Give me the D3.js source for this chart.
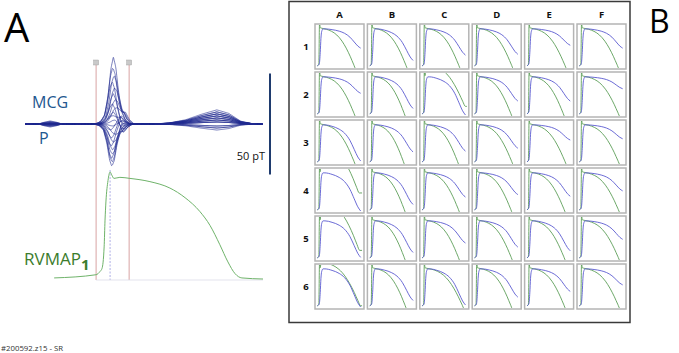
<!DOCTYPE html>
<html>
<head>
<meta charset="utf-8">
<script src="https://cdn.jsdelivr.net/npm/d3@7"></script>
<style>
  html, body { margin: 0; padding: 0; background: #fff; }
  #fig { width: 679px; height: 353px; }
  text { font-family: "Open Sans", "Liberation Sans", sans-serif; }
</style>
</head>
<body>
<div id="fig"></div>
<script>
// ---- Panel A data ----
// MCG butterfly: per-channel QRS, secondary (S) and T amplitudes in pT
const mcgQrs  = [33, 28, 24, 21, 18, 15, 12, 10, 8, 6, 4, 2, -1, -3, -5, -7, -9, -11, -13, -15, -17, -19, -21];
const mcgS    = [0, 2, 3, -2, 3, -3, 4, -4, 5, -5, 3, -3, 2, 4, -3, 5, -2, 3, 2, -2, 0, 2, 0];
const mcgQrsT = [297, 295, 299, 293, 301, 297, 303, 294, 305, 298, 290, 302, 296, 289, 301, 292, 297, 290, 295, 293, 291, 293, 292];
const mcgTAmp = [4, 5, 7, 6, 5, 6, 4, 3, 5, 3, 2, 1, -1, 2, -2, 1, -3, -2, -1, 1, 3, 2, 4];
const mcgPAmp = [1.5, 1.2, 1, 0.8, 0.6, 0.5, 0.4, 0.3, 0.2, 0.2, 0.1, 0, 0, -0.1, -0.2, -0.3, -0.4, -0.5, -0.6, -0.8, -1, -1.2, -1.5];

// waveform templates (ms offset from peak, relative amplitude)
const qrsOffsets = [-60, -42, -28, -17, -8, 0, 8, 17, 28, 42, 60];
const qrsShape   = [0, 0.04, 0.15, 0.45, 0.84, 1, 0.86, 0.5, 0.18, 0.04, 0];
const sOffsets   = [0, 18, 32, 46, 62];
const sShape     = [0, 0.5, 1, 0.4, 0];
const tOffsets   = [-210, -160, -105, -50, 0, 40, 80, 125];
const tShape     = [0, 0.08, 0.3, 0.7, 1, 0.75, 0.2, 0];
const pOffsets   = [-40, -20, 0, 20, 40];
const pShape     = [0, 0.6, 1, 0.6, 0];
const tPeak = 645, pPeak = 85;

// RVMAP1 trace (ms, % amplitude)
const mapTime  = [98, 239, 252, 259, 266, 269, 272, 279, 286, 292, 299, 319, 353, 420, 487, 538, 588, 622, 655, 682, 706, 729, 800];
const mapValue = [1, 4, 7, 10, 30, 55, 72, 92, 100, 97, 94, 95, 94, 91, 85, 76, 63, 50, 32, 16, 5, 1, 0];

const markerTimes = [239, 350];
const activationTime = 286;

// ---- Panel B data (6x6 grid of MAP pairs) ----
const gridCols = ["A", "B", "C", "D", "E", "F"];
const gridRows = ["1", "2", "3", "4", "5", "6"];
// x (fraction of window) where green trace finishes repolarising
const greenEnd = [
  [0.85, 0.84, 0.85, 0.86, 0.88, 0.88],
  [0.85, 0.80, 0.95, 0.84, 0.84, 0.90],
  [0.85, 0.78, 0.82, 0.86, 0.88, 0.90],
  [0.92, 0.80, 0.84, 0.84, 0.86, 0.90],
  [0.93, 0.80, 0.84, 0.85, 0.86, 0.90],
  [0.95, 0.82, 0.93, 0.84, 0.86, 0.90]
];
const greenTop = [
  [0.95, 0.95, 0.95, 0.95, 0.95, 0.95],
  [0.95, 0.95, 1.25, 0.95, 0.95, 0.95],
  [0.95, 0.95, 0.95, 0.95, 0.95, 0.95],
  [1.6, 0.95, 0.95, 0.95, 0.95, 0.95],
  [1.4, 0.95, 0.95, 0.95, 0.95, 0.95],
  [1.1, 0.95, 0.95, 0.95, 0.95, 0.95]
];
const greenTail = [
  [-0.05, -0.05, -0.05, -0.05, -0.05, -0.05],
  [-0.05, -0.05, 0.21, -0.05, -0.05, -0.05],
  [-0.05, -0.05, -0.05, -0.05, -0.05, -0.05],
  [0.44, -0.05, -0.05, -0.05, -0.05, -0.05],
  [0.21, -0.05, -0.05, -0.05, -0.05, -0.05],
  [0.03, -0.05, -0.05, -0.05, -0.05, -0.05]
];
// blue trace level at the end of the window
const blueEnd = [
  [0.46, 0.16, 0.29, 0.31, 0.53, 0.46],
  [0.53, 0.16, 0.0, 0.34, 0.34, 0.64],
  [0.05, 0.27, 0.29, 0.36, 0.56, 0.59],
  [0.0, 0.16, 0.34, 0.40, 0.36, 0.49],
  [0.04, 0.16, 0.39, 0.29, 0.2, 0.48],
  [0.0, 0.16, 0.05, 0.24, 0.38, 0.54]
];
// shared upstroke / repolarisation templates (x fraction, level)
const greenUp = [[0.03, 0.03], [0.06, 0.06], [0.075, 1.08], [0.09, 0.96]];
const blueUp  = [[0.03, 0.03], [0.07, 0.08], [0.09, 0.35], [0.105, 0.7], [0.12, 0.86], [0.15, 0.93]];
const repolU  = [0, 0.15, 0.3, 0.45, 0.6, 0.72, 0.84, 0.93, 1];
const greenF  = [0, 0.03, 0.08, 0.17, 0.32, 0.49, 0.7, 0.88, 1];
const blueU   = [0, 0.2, 0.4, 0.55, 0.7, 0.82, 0.92, 1];
const blueF   = [0, 0.04, 0.12, 0.23, 0.43, 0.68, 0.89, 1];

const W = 679, H = 353;
const svg = d3.select("#fig").append("svg")
  .attr("width", W).attr("height", H)
  .attr("viewBox", `0 0 ${W} ${H}`);

// ================= Panel A =================
const xTime = d3.scaleLinear().domain([0, 800]).range([25, 263]);
const yMcg = d3.scaleLinear().domain([-50, 50]).range([124 + 101, 124 - 101]);
const yMap = d3.scaleLinear().domain([0, 100]).range([279, 172]);

const qrsF = d3.scaleLinear().domain(qrsOffsets).range(qrsShape).clamp(true);
const sF = d3.scaleLinear().domain(sOffsets).range(sShape).clamp(true);
const tF = d3.scaleLinear().domain(tOffsets).range(tShape).clamp(true);
const pF = d3.scaleLinear().domain(pOffsets).range(pShape).clamp(true);

const times = d3.range(0, 801, 3);

// marker lines
svg.selectAll(".marker")
  .data(markerTimes)
  .enter().append("line")
  .attr("x1", d => xTime(d)).attr("x2", d => xTime(d))
  .attr("y1", 63).attr("y2", 280)
  .attr("stroke", "#d8a3a3").attr("stroke-width", 1);
svg.selectAll(".marker-box")
  .data(markerTimes)
  .enter().append("rect")
  .attr("x", d => xTime(d) - 2.5).attr("y", 60)
  .attr("width", 5).attr("height", 5)
  .attr("fill", "#c9c9c9").attr("stroke", "#999").attr("stroke-width", 0.4);

svg.append("line")
  .attr("x1", xTime(activationTime)).attr("x2", xTime(activationTime))
  .attr("y1", 170).attr("y2", 280)
  .attr("stroke", "#9a9ae0").attr("stroke-width", 0.8)
  .attr("stroke-dasharray", "2,1.5");

// RVMAP baseline
svg.append("line")
  .attr("x1", xTime(markerTimes[0])).attr("x2", xTime(800))
  .attr("y1", 280).attr("y2", 280)
  .attr("stroke", "#dcdce8").attr("stroke-width", 0.8);

// MCG butterfly
const mcgLine = d3.line()
  .x(d => xTime(d[0]))
  .y(d => yMcg(d[1]))
  .curve(d3.curveMonotoneX);

svg.append("g").selectAll("path")
  .data(mcgQrs.map((q, i) => i))
  .enter().append("path")
  .attr("d", i => mcgLine(times.map(t => [t,
    mcgPAmp[i] * pF(t - pPeak) +
    mcgQrs[i] * qrsF(t - mcgQrsT[i]) +
    mcgS[i] * sF(t - mcgQrsT[i]) +
    mcgTAmp[i] * tF(t - tPeak)])))
  .attr("fill", "none")
  .attr("stroke", "#1f2a8f")
  .attr("stroke-width", 0.75)
  .attr("stroke-opacity", 0.8);

// RVMAP trace
const mapLine = d3.line()
  .x(d => xTime(d[0]))
  .y(d => yMap(d[1]))
  .curve(d3.curveMonotoneX);
svg.append("path")
  .attr("d", mapLine(mapTime.map((t, i) => [t, mapValue[i]])))
  .attr("fill", "none")
  .attr("stroke", "#6fb36a")
  .attr("stroke-width", 1);

// scale bar
svg.append("line")
  .attr("x1", 270).attr("x2", 270)
  .attr("y1", yMcg(25)).attr("y2", yMcg(-25))
  .attr("stroke", "#1f3b6e").attr("stroke-width", 2);
svg.append("text")
  .attr("x", 265).attr("y", 160)
  .attr("text-anchor", "end")
  .attr("font-size", 11)
  .attr("fill", "#111")
  .text("50 pT");

svg.append("text")
  .attr("x", 4).attr("y", 42)
  .attr("font-size", 40)
  .attr("font-family", "Liberation Sans, Arial, sans-serif")
  .text("A");

svg.append("text")
  .attr("x", 32).attr("y", 108)
  .attr("font-size", 16)
  .attr("fill", "#22578f")
  .text("MCG");
svg.append("text")
  .attr("x", 39).attr("y", 144)
  .attr("font-size", 16)
  .attr("fill", "#22578f")
  .text("P");

const rv = svg.append("text")
  .attr("x", 24).attr("y", 265)
  .attr("font-size", 17)
  .attr("fill", "#3c7c2c");
rv.append("tspan").text("RVMAP");
rv.append("tspan").attr("dy", 5).attr("font-size", 15).attr("font-weight", "bold").text("1");

svg.append("text")
  .attr("x", 1).attr("y", 351)
  .attr("font-size", 7.8)
  .attr("fill", "#333")
  .attr("font-family", "DejaVu Sans Condensed, Liberation Sans, sans-serif")
  .text("#200592.z15 - SR");

// ================= Panel B =================
svg.append("rect")
  .attr("x", 289).attr("y", 1.5)
  .attr("width", 341).attr("height", 321)
  .attr("fill", "none")
  .attr("stroke", "#3a3a3a").attr("stroke-width", 1.5);

svg.append("text")
  .attr("x", 649).attr("y", 33)
  .attr("font-size", 32)
  .attr("font-family", "Liberation Sans, Arial, sans-serif")
  .text("B");

const xCol = d3.scaleBand().domain(gridCols).range([315, 626]).paddingInner(0.065);
const yRow = d3.scaleBand().domain(gridRows).range([24, 309]).paddingInner(0.0625);

svg.selectAll(".col-label")
  .data(gridCols)
  .enter().append("text")
  .attr("x", d => xCol(d) + xCol.bandwidth() / 2)
  .attr("y", 18)
  .attr("text-anchor", "middle")
  .attr("font-size", 9.5)
  .attr("font-weight", "bold")
  .attr("font-family", "DejaVu Sans, sans-serif")
  .attr("fill", "#111")
  .text(d => d);

svg.selectAll(".row-label")
  .data(gridRows)
  .enter().append("text")
  .attr("x", 306)
  .attr("y", d => yRow(d) + yRow.bandwidth() / 2 + 3.5)
  .attr("text-anchor", "middle")
  .attr("font-size", 9.5)
  .attr("font-weight", "bold")
  .attr("font-family", "DejaVu Sans, sans-serif")
  .attr("fill", "#111")
  .text(d => d);

const defs = svg.append("defs");
const greenRep = d3.scaleLinear().domain(repolU).range(greenF);
const blueRep = d3.scaleLinear().domain(blueU).range(blueF);

gridRows.forEach((r, ri) => {
  gridCols.forEach((c, ci) => {
    const x0 = xCol(c), y0 = yRow(r);
    const bw = xCol.bandwidth(), bh = yRow.bandwidth();
    const id = `clip-${r}${c}`;
    defs.append("clipPath").attr("id", id)
      .append("rect")
      .attr("x", x0 + 1).attr("y", y0 + 1)
      .attr("width", bw - 2).attr("height", bh - 2);

    const sx = d3.scaleLinear().domain([0, 1]).range([x0 + 1, x0 + bw - 1]);
    const sy = d3.scaleLinear().domain([0, 1]).range([y0 + bh - 2, y0 + 2]);
    const line = d3.line().x(d => sx(d[0])).y(d => sy(d[1])).curve(d3.curveMonotoneX);

    // green trace
    const gTop = greenTop[ri][ci], gTail = greenTail[ri][ci], gEnd = greenEnd[ri][ci];
    const gStart = 0.11;
    const gPts = greenUp.slice();
    repolU.forEach(u => {
      gPts.push([gStart + u * (gEnd - gStart), gTop - (gTop - gTail) * greenRep(u)]);
    });
    if (gEnd < 0.98) gPts.push([0.98, gTail]);

    // blue trace
    const bEnd = blueEnd[ri][ci];
    const bStart = 0.19, bStop = 0.95;
    const bPts = blueUp.slice();
    blueU.forEach(u => {
      bPts.push([bStart + u * (bStop - bStart), 0.93 - (0.93 - bEnd) * blueRep(u)]);
    });

    const cell = svg.append("g");
    cell.append("rect")
      .attr("x", x0).attr("y", y0)
      .attr("width", bw).attr("height", bh)
      .attr("fill", "#fff")
      .attr("stroke", "#b4b4b4").attr("stroke-width", 1.5);
    const inner = cell.append("g").attr("clip-path", `url(#${id})`);
    inner.append("path")
      .attr("d", line(gPts))
      .attr("fill", "none").attr("stroke", "#5c9e58").attr("stroke-width", 0.9);
    inner.append("path")
      .attr("d", line(bPts))
      .attr("fill", "none").attr("stroke", "#5a5ad0").attr("stroke-width", 0.9);
  });
});
</script>
</body>
</html>
